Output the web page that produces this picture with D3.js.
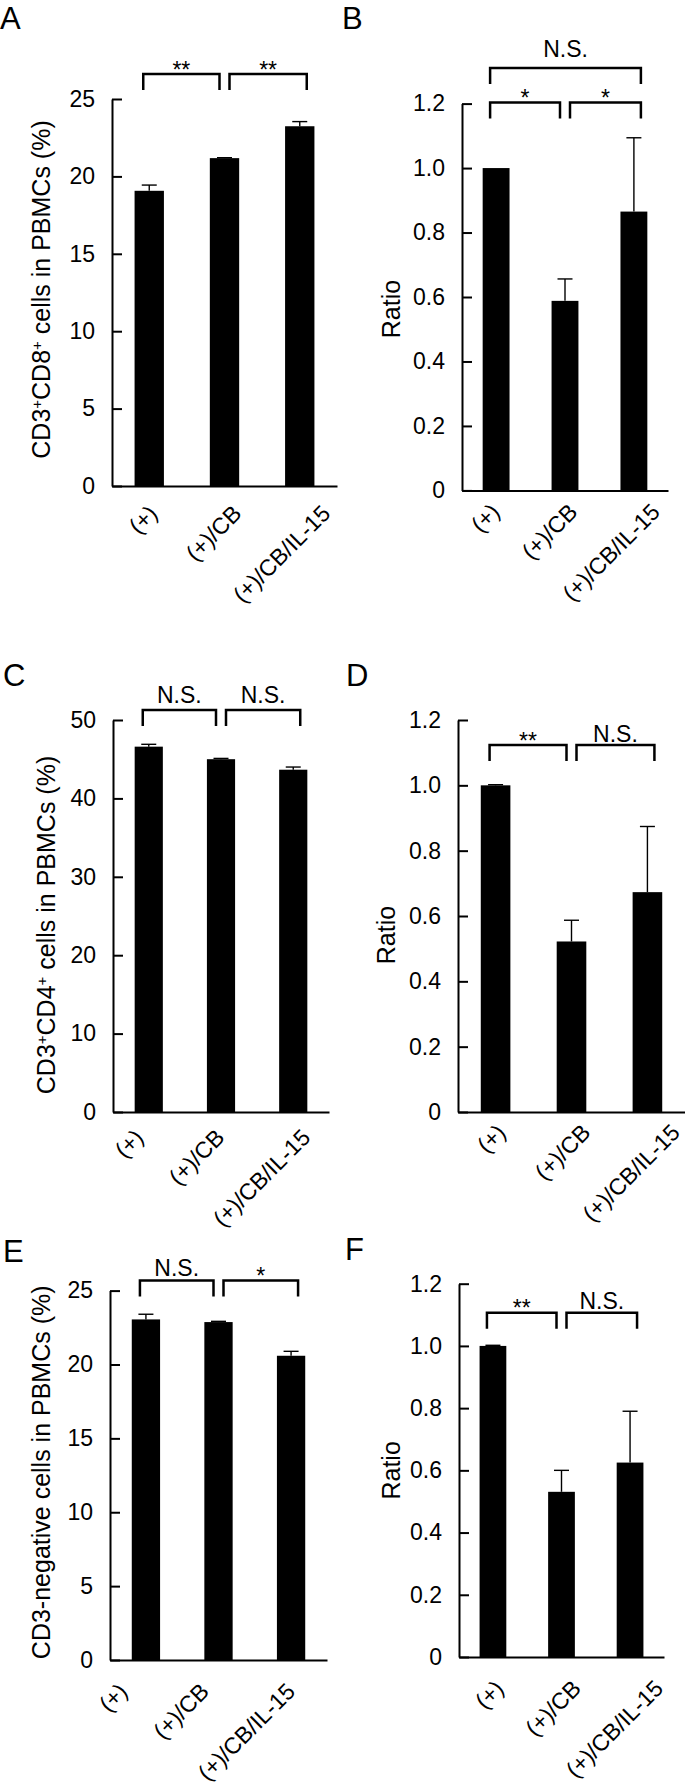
<!DOCTYPE html>
<html><head><meta charset="utf-8">
<script src="https://cdn.jsdelivr.net/npm/d3@7"></script>
<style>
body{margin:0;background:#fff;}
svg{display:block;font-family:"Liberation Sans",Arial,Helvetica,sans-serif;}
</style></head><body>
<svg id="chart" width="685" height="1790"></svg>
<script>
// ---------- data ----------
const categories = ["(+)", "(+)/CB", "(+)/CB/IL-15"];

const valuesA = [19.07, 21.18, 23.24];
const errorsA = [0.37, 0.03, 0.30];
const ticksA  = [0, 5, 10, 15, 20, 25];
const sigA = [{from:0, to:1, label:"**", tier:0}, {from:1, to:2, label:"**", tier:0}];

const valuesB = [1.0, 0.588, 0.865];
const errorsB = [0.0, 0.068, 0.229];
const ticksB  = [0, 0.2, 0.4, 0.6, 0.8, 1.0, 1.2];
const sigB = [{from:0, to:1, label:"*", tier:0}, {from:1, to:2, label:"*", tier:0}, {from:0, to:2, label:"N.S.", tier:1}];

const valuesC = [46.6, 45.0, 43.66];
const errorsC = [0.30, 0.10, 0.34];
const ticksC  = [0, 10, 20, 30, 40, 50];
const sigC = [{from:0, to:1, label:"N.S.", tier:0}, {from:1, to:2, label:"N.S.", tier:0}];

const valuesD = [1.0, 0.522, 0.673];
const errorsD = [0.002, 0.065, 0.201];
const ticksD  = [0, 0.2, 0.4, 0.6, 0.8, 1.0, 1.2];
const sigD = [{from:0, to:1, label:"**", tier:0}, {from:1, to:2, label:"N.S.", tier:0}];

const valuesE = [23.05, 22.87, 20.59];
const errorsE = [0.35, 0.05, 0.30];
const ticksE  = [0, 5, 10, 15, 20, 25];
const sigE = [{from:0, to:1, label:"N.S.", tier:0}, {from:1, to:2, label:"*", tier:0}];

const valuesF = [1.0, 0.531, 0.625];
const errorsF = [0.002, 0.069, 0.165];
const ticksF  = [0, 0.2, 0.4, 0.6, 0.8, 1.0, 1.2];
const sigF = [{from:0, to:1, label:"**", tier:0}, {from:1, to:2, label:"N.S.", tier:0}];

const titleA = [["CD3"], ["+", true], ["CD8"], ["+", true], [" cells in PBMCs (%)"]];
const titleC = [["CD3"], ["+", true], ["CD4"], ["+", true], [" cells in PBMCs (%)"]];
const titleE = [["CD3-negative cells in PBMCs (%)"]];
const titleRatio = [["Ratio"]];

// ---------- layout (positions / styles) ----------
const panels = [
  {letter:"A", lx:0,   ly:29,   axisX:112, xEnd:337, yTop:99,    y0:486,  titleX:50,  titleDy:-3, values:valuesA, errors:errorsA, ticks:ticksA, sig:sigA, title:titleA, brTiers:[-25], nsGap:6,  labDx:3,    labDy:29},
  {letter:"B", lx:342, ly:29,   axisX:462, xEnd:668, yTop:103.6, y0:490.4,titleX:400, titleDy:12, values:valuesB, errors:errorsB, ticks:ticksB, sig:sigB, title:titleRatio, brTiers:[-1, -35.6], nsGap:11, labDx:-1.5, labDy:23},
  {letter:"C", lx:3,   ly:686,  axisX:113, xEnd:329, yTop:720,   y0:1112, titleX:55,  titleDy:9,  values:valuesC, errors:errorsC, ticks:ticksC, sig:sigC, title:titleC, brTiers:[-10], nsGap:7,  labDx:-10.5, labDy:27},
  {letter:"D", lx:346, ly:686,  axisX:458, xEnd:685, yTop:720,   y0:1112, titleX:395, titleDy:19, values:valuesD, errors:errorsD, ticks:ticksD, sig:sigD, title:titleRatio, brTiers:[25], nsGap:3, labDx:5,   labDy:22},
  {letter:"E", lx:3,   ly:1262, axisX:110, xEnd:327, yTop:1290.6,y0:1660, titleX:50,  titleDy:-3, values:valuesE, errors:errorsE, ticks:ticksE, sig:sigE, title:titleE, brTiers:[-10], nsGap:4.5, labDx:-23.5, labDy:33},
  {letter:"F", lx:345, ly:1260, axisX:459, xEnd:664, yTop:1283.7,y0:1657, titleX:400, titleDy:0,  values:valuesF, errors:errorsF, ticks:ticksF, sig:sigF, title:titleRatio, brTiers:[29], nsGap:4,  labDx:5.5,  labDy:33}
];

const FONT = 23;
const svg = d3.select("#chart");

panels.forEach(p => {
  const g = svg.append("g");

  // panel letter
  g.append("text").attr("x", p.lx).attr("y", p.ly)
    .attr("font-size", 31).text(p.letter);

  const x = d3.scaleBand().domain(categories).range([p.axisX, p.xEnd])
    .paddingInner(0.61).paddingOuter(0.30);
  const maxT = d3.max(p.ticks);
  const y = d3.scaleLinear().domain([0, maxT]).range([p.y0, p.yTop]);
  const fmt = maxT <= 2 ? (d => d === 0 ? "0" : d3.format(".1f")(d)) : d3.format("d");

  // bars
  g.selectAll("rect.bar").data(p.values).join("rect")
    .attr("x", (d, i) => x(categories[i]))
    .attr("width", x.bandwidth())
    .attr("y", d => y(d))
    .attr("height", d => y(0) - y(d))
    .attr("fill", "#000");

  // error bars (upper only)
  const cap = 15;
  p.values.forEach((v, i) => {
    const cx = x(categories[i]) + x.bandwidth() / 2;
    const e = p.errors[i];
    if (e <= 0) return;
    g.append("line").attr("x1", cx).attr("x2", cx).attr("y1", y(v)).attr("y2", y(v + e))
      .attr("stroke", "#000").attr("stroke-width", 1.4);
    g.append("line").attr("x1", cx - cap / 2).attr("x2", cx + cap / 2).attr("y1", y(v + e)).attr("y2", y(v + e))
      .attr("stroke", "#000").attr("stroke-width", 1.4);
  });

  // y axis
  const ya = g.append("g").attr("transform", `translate(${p.axisX},0)`)
    .call(d3.axisLeft(y).tickValues(p.ticks).tickFormat(fmt).tickSizeInner(-10).tickSizeOuter(0).tickPadding(17));
  ya.attr("font-size", FONT).attr("font-family", null);
  ya.selectAll("path,line").attr("stroke", "#000").attr("stroke-width", 2);
  ya.selectAll("text").attr("fill", "#000");

  // x axis
  const xa = g.append("g").attr("transform", `translate(0,${p.y0})`)
    .call(d3.axisBottom(x).tickSize(0).tickFormat(""));
  xa.select("path").attr("stroke", "#000").attr("stroke-width", 2);

  // rotated category labels
  categories.forEach((c, i) => {
    const t = g.append("text").attr("font-size", FONT).attr("text-anchor", "end").text(c);
    const len = t.node().getComputedTextLength();
    const ax = x(c) + x.bandwidth() / 2 + p.labDx + 0.23 * len;
    const ay = p.y0 + p.labDy;
    t.attr("x", ax).attr("y", ay).attr("transform", `rotate(-45,${ax},${ay})`);
  });

  // y title
  const tt = g.append("text").attr("font-size", 25).attr("text-anchor", "middle")
    .attr("transform", `translate(${p.titleX},${(p.yTop + p.y0) / 2 + p.titleDy}) rotate(-90)`);
  p.title.forEach(seg => {
    const ts = tt.append("tspan").text(seg[0]);
    if (seg[1]) ts.attr("font-size", 15).attr("baseline-shift", "super");
  });

  // significance brackets
  const mid = 1;
  p.sig.forEach(s => {
    const c1 = x(categories[s.from]) + x.bandwidth() / 2;
    const c2 = x(categories[s.to]) + x.bandwidth() / 2;
    const x1 = c1 + (s.from === mid ? 5 : -6);
    const x2 = c2 + (s.to === mid ? -5 : 7);
    const top = p.yTop + p.brTiers[s.tier];
    const drop = 16;
    g.append("path")
      .attr("d", `M${x1},${top + drop}V${top}H${x2}V${top + drop}`)
      .attr("fill", "none").attr("stroke", "#000").attr("stroke-width", 2.5);
    const isStar = s.label.indexOf("*") >= 0;
    g.append("text").attr("x", (x1 + x2) / 2)
      .attr("y", isStar ? top + 3.5 : top - p.nsGap)
      .attr("text-anchor", "middle").attr("font-size", FONT).text(s.label);
  });
});
</script>
</body></html>
